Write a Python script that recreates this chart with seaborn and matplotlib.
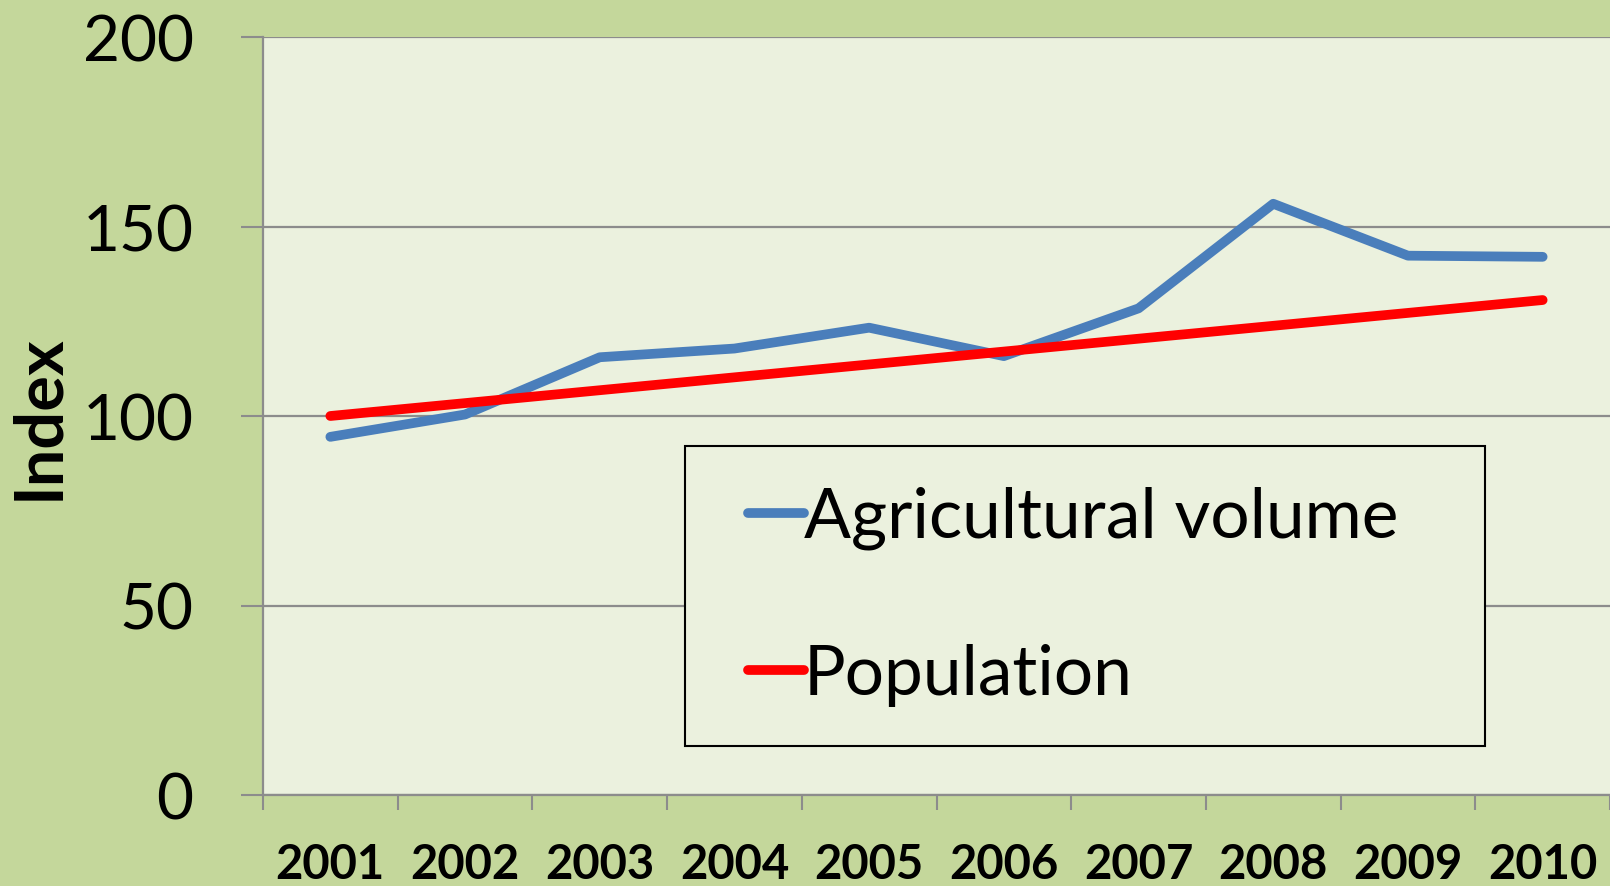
import pandas as pd
import seaborn as sns
import matplotlib.pyplot as plt
from matplotlib.patches import Rectangle

# values
years = [2001, 2002, 2003, 2004, 2005, 2006, 2007, 2008, 2009, 2010]
agri_volume = [94.5, 100.4, 115.5, 117.8, 123.3, 115.8, 128.4, 156.0, 142.3, 142.0]
population = [100.0, 103.4, 106.8, 110.2, 113.6, 117.0, 120.4, 123.8, 127.2, 130.6]
series_names = ['Agricultural volume', 'Population']
series_colors = ['#4A7EBB', '#FF0000']

df = pd.DataFrame({
    'year': years * 2,
    'value': agri_volume + population,
    'series': [series_names[0]] * len(years) + [series_names[1]] * len(years),
})

sns.set_theme(style='white')
plt.rcParams['font.family'] = ['Lato', 'DejaVu Sans']
plt.rcParams['text.color'] = 'black'
plt.rcParams['xtick.labelcolor'] = 'black'
plt.rcParams['ytick.labelcolor'] = 'black'
plt.rcParams['axes.labelcolor'] = 'black'

grid_col = '#8C8C8C'

fig = plt.figure(figsize=(16.1, 8.87), dpi=100, facecolor='#C4D79B')
ax = fig.add_axes([263 / 1610, 1 - 796 / 887, 1 - 263 / 1610, (796 - 38) / 887])
ax.set_facecolor('#EBF1DE')

sns.lineplot(data=df, x='year', y='value', hue='series', palette=series_colors,
             linewidth=7, solid_capstyle='round', ax=ax, legend=True)

# axes limits / ticks (category style: ticks between years)
ax.set_xlim(years[0] - 0.5, years[-1] + 0.5)
ax.set_ylim(0, 200)
ax.set_yticks([0, 50, 100, 150, 200])
ax.set_xticks([y - 0.5 for y in years] + [years[-1] + 0.5])
ax.set_xticklabels([])
ax.set_xticks(years, minor=True)
ax.set_xticklabels([str(y) for y in years], minor=True, fontsize=34, fontweight='bold')
ax.tick_params(axis='x', which='major', direction='out', length=11, width=1.5, color=grid_col, bottom=True)
ax.tick_params(axis='x', which='minor', length=0, pad=34)
ax.tick_params(axis='y', direction='out', length=16, width=1.5, color=grid_col, left=True,
               labelsize=46, pad=34)

ax.yaxis.grid(True, color=grid_col, linewidth=1.6)
ax.xaxis.grid(False)
for side in ['top', 'right']:
    ax.spines[side].set_visible(False)
for side in ['left', 'bottom']:
    ax.spines[side].set_color(grid_col)
    ax.spines[side].set_linewidth(1.6)

ax.set_xlabel('')
ax.set_ylabel('Index', fontsize=48, fontweight='bold')
ax.yaxis.set_label_coords(-0.143, 0.5)

# legend box drawn separately so the padding matches the reference
ax.add_patch(Rectangle((685 / 1610, 1 - 747 / 887), 800 / 1610, 300 / 887,
                       transform=fig.transFigure, facecolor='#EBF1DE', clip_on=False,
                       edgecolor='black', linewidth=1.5, zorder=4))
leg = ax.legend(loc='center left', bbox_to_anchor=(748 / 1610, 1 - 597 / 887),
                bbox_transform=fig.transFigure, fontsize=50, frameon=False,
                handlelength=0.8, handletextpad=0.0, labelspacing=1.35,
                borderpad=0, borderaxespad=0)
leg.set_zorder(5)
for h in leg.get_lines():
    h.set_linewidth(7)

fig.savefig('out.png', dpi=100, facecolor=fig.get_facecolor())
